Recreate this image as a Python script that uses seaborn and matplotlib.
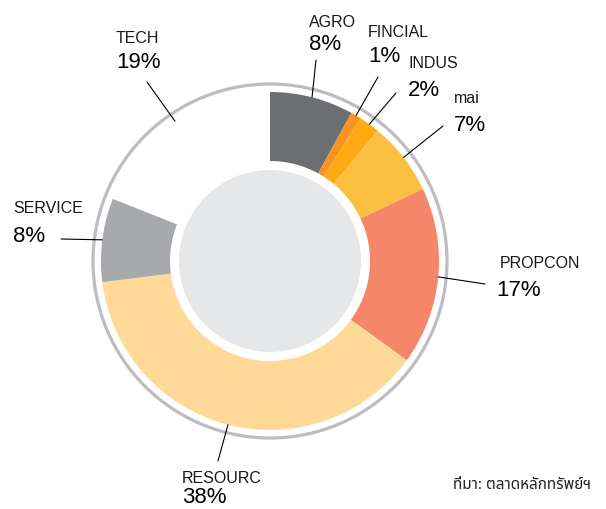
import numpy as np
import matplotlib
matplotlib.use("Agg")
import matplotlib.pyplot as plt
import seaborn as sns
from matplotlib.patches import Circle

sns.set_theme(style="white")
plt.rcParams['font.family'] = ['Liberation Sans', 'DejaVu Sans']

sectors = ["AGRO", "FINCIAL", "INDUS", "mai", "PROPCON", "RESOURC", "SERVICE", "TECH"]
shares = [8, 1, 2, 7, 17, 38, 8, 19]
colors = ["#6d6e71", "#f7941d", "#fdaa14", "#fbbf3f", "#f6866a", "#fed998", "#a7a9ac", "#ffffff"]

# label layout (pixel coords, y from top): name baseline, pct baseline, x left, leader end
label_x = [309, 368, 408, 454, 500, 182, 13, 116]
pct_x = [309, 368, 408, 454, 496, 182, 13, 116]
name_y = [27, 37, 68, 103, 268, 483, 213, 43]
pct_y = [50, 62, 96, 131, 296, 503, 242, 68]
lead_end = [(316, 60), (378, 77), (396, 93), (443, 126), (485, 284), (218, 461), (61, 239), (147, 82)]

W, H = 606, 509
fig = plt.figure(figsize=(W / 100, H / 100), dpi=100)
ax = fig.add_axes([0, 0, 1, 1])

cx, cy = 270, 261
r_ring, r_out, r_in, r_core = 177, 169, 100, 91

ax.add_patch(Circle((cx, cy), r_ring, fill=False, ec="#bcbdc0", lw=2.3))
# y axis is inverted, so counterclock=True in data space draws clockwise on screen
ax.pie(shares, colors=colors, startangle=-90, counterclock=True, center=(cx, cy),
       radius=r_out, wedgeprops=dict(width=r_out - r_in, linewidth=0), frame=True)
ax.set_xlim(0, W)
ax.set_ylim(H, 0)
ax.set_aspect("equal")
ax.axis("off")
ax.add_patch(Circle((cx, cy), r_core, fc="#e6e7e8", ec="none"))

cum = np.cumsum(shares) - np.array(shares) / 2
for i, name in enumerate(sectors):
    ang = np.deg2rad(cum[i] / 100 * 360)
    sx, sy = cx + r_out * np.sin(ang), cy - r_out * np.cos(ang)
    ex, ey = lead_end[i]
    ax.plot([sx, ex], [sy, ey], color="black", lw=0.8)
    ax.text(label_x[i], name_y[i], name, fontsize=11.5, color="#1a1718", va="baseline", ha="left")
    ax.text(pct_x[i], pct_y[i], f"{shares[i]}%", fontsize=16, color="black", va="baseline", ha="left")

ax.text(453, 489, "ที่มา: ตลาดหลักทรัพย์ฯ", fontsize=11, color="#222222", va="baseline", ha="left",
        family=["Noto Sans Thai", "Loma", "Garuda", "Tlwg Typo", "Noto Sans", "DejaVu Sans"])

fig.savefig("out.png", dpi=100)
